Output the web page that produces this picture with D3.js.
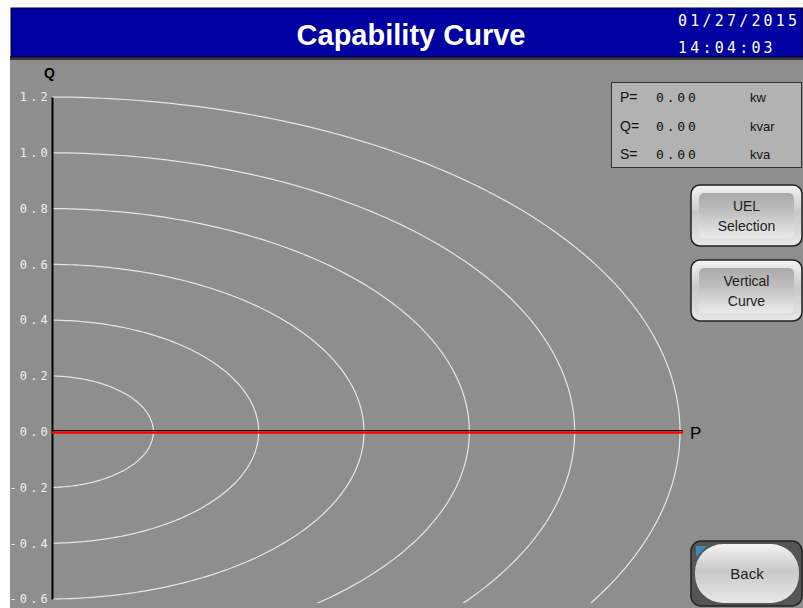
<!DOCTYPE html>
<html>
<head>
<meta charset="utf-8">
<script src="https://cdn.jsdelivr.net/npm/d3@7"></script>
<style>
  body { margin: 0; background: #fff; }
  svg { display: block; }
</style>
</head>
<body>
<div class="chart"></div>
<script>
// capability curve screen
let W = 803, H = 608;

// data
let radii = [0.2, 0.4, 0.6, 0.8, 1.0, 1.2];
let yTicks = [1.2, 1.0, 0.8, 0.6, 0.4, 0.2, 0.0, -0.2, -0.4, -0.6];
let readoutLabels = ["P=", "Q=", "S="];
let readoutValues = [0.0, 0.0, 0.0];
let readoutUnits = ["kw", "kvar", "kva"];
let buttons = ["UEL|Selection", "Vertical|Curve"];
let title = "Capability Curve";
let dateText = "01/27/2015";
let timeText = "14:04:03";

let svg = d3.select(".chart").append("svg").attr("width", W).attr("height", H);

let defs = svg.append("defs");
let grad = defs.append("linearGradient").attr("id", "btn").attr("x1", 0).attr("y1", 0).attr("x2", 0).attr("y2", 1);
grad.append("stop").attr("offset", "0%").attr("stop-color", "#f4f4f4");
grad.append("stop").attr("offset", "45%").attr("stop-color", "#c8c8c8");
grad.append("stop").attr("offset", "100%").attr("stop-color", "#e8e8e8");
let grad2 = defs.append("linearGradient").attr("id", "btnIn").attr("x1", 0).attr("y1", 0).attr("x2", 0).attr("y2", 1);
grad2.append("stop").attr("offset", "0%").attr("stop-color", "#9a9a9a");
grad2.append("stop").attr("offset", "50%").attr("stop-color", "#c4c4c4");
grad2.append("stop").attr("offset", "100%").attr("stop-color", "#eeeeee");

// background
svg.append("rect").attr("x", 10).attr("y", 57).attr("width", W - 10).attr("height", H - 57).attr("fill", "#8e8e8e");

// title bar
svg.append("rect").attr("x", 10).attr("y", 56).attr("width", W - 10).attr("height", 4).attr("fill", "#3a3a3a");
svg.append("rect").attr("x", 11).attr("y", 8).attr("width", W - 11).attr("height", 49)
  .attr("fill", "#0000a0").attr("stroke", "#000030").attr("stroke-width", 1);
svg.append("text").attr("x", 411).attr("y", 45).attr("text-anchor", "middle")
  .attr("font-family", "Liberation Sans, Arial, sans-serif").attr("font-size", 29)
  .attr("font-weight", "bold").attr("fill", "#fff").text(title);
svg.append("text").attr("x", 678).attr("y", 26)
  .attr("font-family", "DejaVu Sans Mono, monospace").attr("font-size", 15)
  .attr("letter-spacing", 3.2).attr("fill", "#fff").text(dateText);
svg.append("text").attr("x", 678).attr("y", 53)
  .attr("font-family", "DejaVu Sans Mono, monospace").attr("font-size", 15)
  .attr("letter-spacing", 3.2).attr("fill", "#fff").text(timeText);

// scales
let x0 = 52;
let xScale = d3.scaleLinear().domain([0, 1.2]).range([48, 680]);
let yScale = d3.scaleLinear().domain([-0.6, 1.2]).range([599, 97]);

svg.append("clipPath").attr("id", "plot").append("rect")
  .attr("x", x0).attr("y", 60).attr("width", 700).attr("height", 543);

// ellipses (right half)
let g = svg.append("g").attr("clip-path", "url(#plot)");
let line = d3.line().x((d) => xScale(d[0])).y((d) => yScale(d[1]));
g.selectAll("path.arc")
  .data(radii)
  .enter()
  .append("path")
  .attr("class", "arc")
  .attr("d", (r) => line(d3.range(0, 181).map((i) => {
    let a = (i - 90) * Math.PI / 180;
    return [r * Math.cos(a), r * Math.sin(a)];
  })))
  .attr("fill", "none")
  .attr("stroke", "#e6e6e6")
  .attr("stroke-width", 1.2);

// y axis
let yAxis = d3.axisLeft(yScale).tickValues(yTicks).tickSize(0).tickPadding(1)
  .tickFormat((d) => d3.format(".1f")(d).replace("−", "-"));
let ya = svg.append("g").attr("transform", `translate(${x0},0)`).call(yAxis);
ya.select(".domain").attr("stroke", "#000").attr("stroke-width", 2);
ya.selectAll("text").attr("fill", "#eeeeee").attr("font-family", "DejaVu Sans Mono, monospace")
  .attr("font-size", 12).attr("letter-spacing", 3.2);

svg.append("text").attr("x", 44).attr("y", 78)
  .attr("font-family", "Liberation Sans, Arial, sans-serif").attr("font-weight", "bold")
  .attr("font-size", 14).attr("fill", "#000").text("Q");

// P axis (red)
svg.append("line").attr("x1", x0).attr("x2", 683).attr("y1", yScale(0) - 1).attr("y2", yScale(0) - 1)
  .attr("stroke", "#1a0000").attr("stroke-width", 1.2);
svg.append("line").attr("x1", x0).attr("x2", 683).attr("y1", yScale(0) + 1).attr("y2", yScale(0) + 1)
  .attr("stroke", "#ff0000").attr("stroke-width", 2.4);
svg.append("text").attr("x", 690).attr("y", 439)
  .attr("font-family", "Liberation Sans, Arial, sans-serif").attr("font-size", 17)
  .attr("fill", "#000").text("P");

// readout box
svg.append("rect").attr("x", 611.5).attr("y", 82.5).attr("width", 190).attr("height", 85)
  .attr("fill", "#b2b2b2").attr("stroke", "#333").attr("stroke-width", 1);
let rows = svg.selectAll("g.row").data(readoutLabels).enter().append("g")
  .attr("class", "row").attr("transform", (d, i) => `translate(0, ${102 + i * 28.5})`);
rows.append("text").attr("x", 620).attr("font-family", "Liberation Sans, Arial, sans-serif")
  .attr("font-size", 14).attr("fill", "#111").text((d) => d);
rows.append("text").attr("x", 656).attr("font-family", "DejaVu Sans Mono, monospace")
  .attr("font-size", 13).attr("letter-spacing", 2.8).attr("fill", "#111")
  .text((d, i) => d3.format(".2f")(readoutValues[i]));
rows.append("text").attr("x", 750).attr("font-family", "Liberation Sans, Arial, sans-serif")
  .attr("font-size", 13).attr("fill", "#111").text((d, i) => readoutUnits[i]);

// buttons
function button(x, y, w, h, lines) {
  let b = svg.append("g").attr("transform", `translate(${x},${y})`);
  b.append("rect").attr("width", w).attr("height", h).attr("rx", 9)
    .attr("fill", "url(#btn)").attr("stroke", "#222").attr("stroke-width", 1.5);
  b.append("rect").attr("x", 8).attr("y", 8).attr("width", w - 16).attr("height", h - 16).attr("rx", 5)
    .attr("fill", "url(#btnIn)").attr("opacity", 0.8);
  let n = lines.length;
  lines.forEach((t, i) => {
    b.append("text").attr("x", w / 2).attr("y", h / 2 + 5 + (i - (n - 1) / 2) * 20)
      .attr("text-anchor", "middle").attr("font-family", "Liberation Sans, Arial, sans-serif")
      .attr("font-size", 14).attr("fill", "#222").text(t);
  });
  return b;
}
buttons.forEach((s, i) => button(691, 185 + i * 75, 111, 61, s.split("|")));

let back = svg.append("g").attr("transform", "translate(691,541)");
back.append("rect").attr("width", 111).attr("height", 65).attr("rx", 10)
  .attr("fill", "#555").attr("stroke", "#222").attr("stroke-width", 1.5);
back.append("rect").attr("x", 4).attr("y", 3).attr("width", 104).attr("height", 59).attr("rx", 28)
  .attr("fill", "url(#btn)");
back.append("path").attr("d", "M5,5 L16,5 L5,16 Z").attr("fill", "#3a8ab8");
back.append("text").attr("x", 56).attr("y", 38).attr("text-anchor", "middle")
  .attr("font-family", "Liberation Sans, Arial, sans-serif").attr("font-size", 15)
  .attr("fill", "#222").text("Back");
</script>
</body>
</html>
